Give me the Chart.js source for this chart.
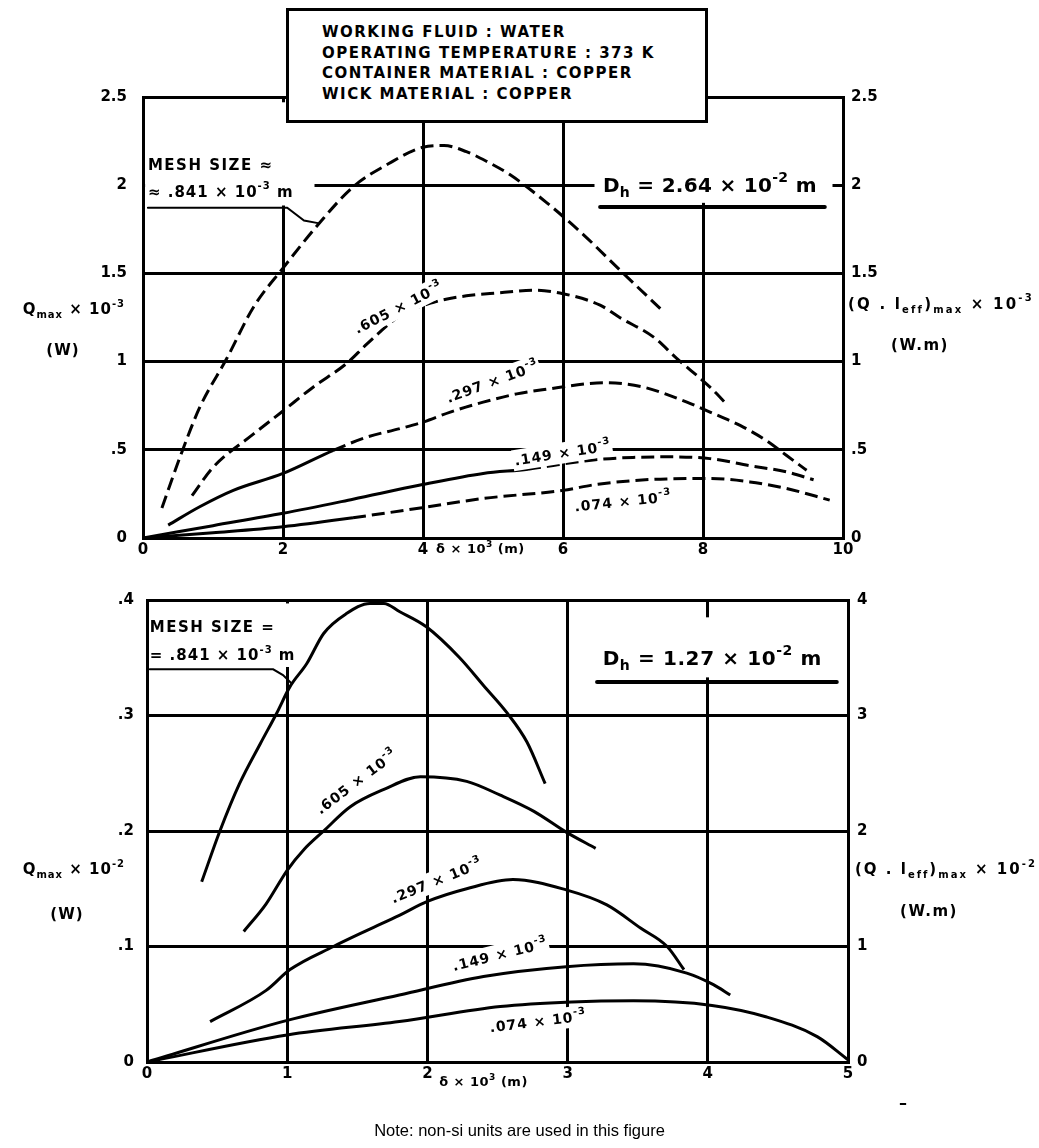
<!DOCTYPE html>
<html>
<head>
<meta charset="utf-8">
<script src="https://cdn.jsdelivr.net/npm/chart.js@4/dist/chart.umd.min.js"></script>
<style>
  body { margin: 0; background: #fff; width: 1039px; height: 1148px; position: relative; overflow: hidden; }
  canvas { position: absolute; left: 0; }
  #top { top: 0; }
  #bot { top: 575px; }
  #info {
    position: absolute; left: 286px; top: 8px; width: 383px; height: 98px;
    border: 3px solid #000; background: #fff; padding: 11px 0 0 33px;
    font: bold 15px "DejaVu Sans", sans-serif; letter-spacing: 1.5px; line-height: 20.6px;
  }
  #note { position: absolute; left: 0; top: 1121px; width: 1039px; text-align: center; font: 16.5px "Liberation Sans", Arial, sans-serif; }
  #dash { position: absolute; left: 899px; top: 1093px; font: bold 16px "DejaVu Sans"; }
</style>
</head>
<body>
<canvas id="top" width="1039" height="575"></canvas>
<canvas id="bot" width="1039" height="573"></canvas>
<div id="info">WORKING FLUID : WATER<br>OPERATING TEMPERATURE : 373 K<br>CONTAINER MATERIAL : COPPER<br>WICK MATERIAL : COPPER</div>
<div id="note">Note: non-si units are used in this figure</div>
<div id="dash">–</div>
<script>
// tick labels
const topTickLeft = ['0', '.5', '1', '1.5', '2', '2.5'];
const topTickRight = ['0', '.5', '1', '1.5', '2', '2.5'];
const botTickLeft = ['0', '.1', '.2', '.3', '.4'];
const botTickRight = ['0', '1', '2', '3', '4'];

// upper chart, Dh = 2.64e-2 m : delta x 10^3 (m) vs Qmax x 10^-3 (W)
const top841X = [0.27, 0.53, 0.81, 1.2, 1.58, 2.0, 2.53, 3.0, 3.5, 4.0, 4.3, 4.62, 4.91, 5.24, 5.77, 6.29, 6.81, 7.39];
const top841Y = [0.17, 0.46, 0.74, 1.02, 1.31, 1.53, 1.79, 1.99, 2.12, 2.215, 2.225, 2.19, 2.135, 2.06, 1.9, 1.72, 1.52, 1.30];
const top605X = [0.7, 1.0, 1.58, 2.0, 2.43, 2.91, 3.2, 3.67, 4.14, 4.62, 5.1, 5.58, 6.0, 6.53, 6.81, 7.29, 7.62, 8.1, 8.36];
const top605Y = [0.24, 0.40, 0.59, 0.72, 0.855, 0.99, 1.10, 1.26, 1.335, 1.373, 1.39, 1.405, 1.385, 1.32, 1.25, 1.14, 1.02, 0.855, 0.75];
const top297X = [0.36, 0.81, 1.29, 2.0, 2.72, 3.2, 3.67, 4.0, 4.39, 4.86, 5.34, 5.81, 6.34, 6.6, 7.15, 7.77, 8.1, 8.53, 8.9, 9.19, 9.48];
const top297Y = [0.073, 0.177, 0.27, 0.366, 0.497, 0.572, 0.62, 0.657, 0.714, 0.77, 0.817, 0.846, 0.874, 0.88, 0.855, 0.77, 0.714, 0.638, 0.554, 0.469, 0.384];
const top149X = [0, 1, 2, 3, 3.96, 4.86, 5.5, 6.0, 6.5, 7.0, 7.5, 8.1, 8.67, 9.19, 9.58];
const top149Y = [0, 0.07, 0.14, 0.22, 0.30, 0.366, 0.39, 0.42, 0.445, 0.457, 0.46, 0.45, 0.41, 0.375, 0.33];
const top074X = [0, 1, 2, 3, 3.96, 4.86, 6.0, 6.5, 7.48, 8.1, 8.67, 9.19, 9.81];
const top074Y = [0, 0.03, 0.064, 0.115, 0.17, 0.224, 0.27, 0.305, 0.335, 0.337, 0.318, 0.281, 0.215];

// lower chart, Dh = 1.27e-2 m : delta x 10^3 (m) vs Qmax x 10^-2 (W)
const bot841X = [0.39, 0.52, 0.66, 0.81, 0.925, 1.02, 1.14, 1.26, 1.42, 1.59, 1.69, 1.8, 1.99, 2.23, 2.4, 2.57, 2.71, 2.84];
const bot841Y = [0.156, 0.20, 0.241, 0.276, 0.302, 0.325, 0.345, 0.371, 0.388, 0.397, 0.397, 0.39, 0.377, 0.35, 0.326, 0.302, 0.277, 0.241];
const bot605X = [0.69, 0.85, 1.0, 1.12, 1.26, 1.45, 1.69, 1.95, 2.28, 2.52, 2.76, 2.99, 3.2];
const bot605Y = [0.113, 0.137, 0.166, 0.184, 0.20, 0.221, 0.236, 0.247, 0.243, 0.231, 0.217, 0.199, 0.185];
const bot297X = [0.45, 0.85, 1.02, 1.33, 1.57, 1.8, 2.0, 2.28, 2.61, 2.99, 3.28, 3.52, 3.71, 3.83];
const bot297Y = [0.035, 0.062, 0.08, 0.10, 0.114, 0.127, 0.139, 0.15, 0.158, 0.149, 0.136, 0.116, 0.10, 0.08];
const bot149X = [0, 1, 1.8, 2.4, 2.99, 3.47, 3.85, 4.04, 4.16];
const bot149Y = [0, 0.036, 0.058, 0.074, 0.0825, 0.085, 0.077, 0.067, 0.058];
const bot074X = [0, 1, 1.8, 2.52, 3.03, 3.47, 4.03, 4.42, 4.78, 5.0];
const bot074Y = [0, 0.0234, 0.035, 0.048, 0.052, 0.053, 0.049, 0.039, 0.022, 0.002];

const FONT = '"DejaVu Sans", sans-serif';

function curve(xs, ys, dashFrom) {
  const ds = {
    data: xs.map((x, i) => ({ x: x, y: ys[i] })),
    borderColor: '#000', borderWidth: 3, pointRadius: 0, fill: false,
    cubicInterpolationMode: 'monotone'
  };
  if (dashFrom !== undefined) {
    ds.segment = { borderDash: c => (c.p0.parsed.x >= dashFrom ? [13, 6] : undefined) };
  }
  return ds;
}

// text with _{sub} and ^{sup} parts
function parseRuns(s) {
  const out = [], re = /([_^])\{([^}]*)\}/g;
  let last = 0, m;
  while ((m = re.exec(s))) {
    if (m.index > last) out.push({ t: s.slice(last, m.index), k: '' });
    out.push({ t: m[2], k: m[1] });
    last = re.lastIndex;
  }
  if (last < s.length) out.push({ t: s.slice(last), k: '' });
  return out;
}

function drawRich(ctx, s, x, y, size, align, sp, backing) {
  ctx.letterSpacing = (sp || 0) + 'px';
  const runs = parseRuns(s).map(r => {
    const fs = r.k ? Math.round(size * 0.68) : size;
    ctx.font = 'bold ' + fs + 'px ' + FONT;
    return { t: r.t, k: r.k, fs: fs, w: ctx.measureText(r.t).width };
  });
  const total = runs.reduce((a, r) => a + r.w, 0);
  let cx = align === 'center' ? x - total / 2 : align === 'right' ? x - total : x;
  if (backing) {
    ctx.save();
    ctx.fillStyle = '#fff';
    ctx.fillRect(cx - 2, y - size * 0.85, total + 3, size * 1.5);
    ctx.restore();
  }
  ctx.textAlign = 'left';
  ctx.textBaseline = 'middle';
  runs.forEach(r => {
    ctx.font = 'bold ' + r.fs + 'px ' + FONT;
    const dy = r.k === '_' ? size * 0.32 : r.k === '^' ? -size * 0.42 : 0;
    ctx.fillText(r.t, cx, y + dy);
    cx += r.w;
  });
}

function notesPlugin(cfg) {
  return {
    id: 'notes',
    beforeDatasetsDraw(chart) {
      const { ctx } = chart, sx = chart.scales.x, sy = chart.scales.y;
      ctx.save();
      ctx.fillStyle = '#fff';
      cfg.blank.forEach(b => {
        const l = sx.getPixelForValue(b[0]), r = sx.getPixelForValue(b[1]);
        const t = sy.getPixelForValue(b[3]), btm = sy.getPixelForValue(b[2]);
        ctx.fillRect(l, t, r - l, btm - t);
      });
      ctx.restore();
    },
    afterDatasetsDraw(chart) {
      const { ctx, chartArea } = chart, sx = chart.scales.x, sy = chart.scales.y;
      ctx.save();
      ctx.fillStyle = '#000';
      ctx.strokeStyle = '#000';
      ctx.lineCap = 'round';
      cfg.lines.forEach(ln => {
        ctx.lineWidth = ln.w;
        ctx.beginPath();
        ln.pts.forEach((p, i) => {
          const px = sx.getPixelForValue(p[0]), py = sy.getPixelForValue(p[1]);
          if (i === 0) ctx.moveTo(px, py); else ctx.lineTo(px, py);
        });
        ctx.stroke();
      });
      cfg.texts.forEach(t => {
        drawRich(ctx, t.t, sx.getPixelForValue(t.x), sy.getPixelForValue(t.y), t.size, t.align, t.sp);
      });
      cfg.curveLabels.forEach(t => {
        ctx.save();
        ctx.translate(sx.getPixelForValue(t.x), sy.getPixelForValue(t.y));
        ctx.rotate(t.a * Math.PI / 180);
        drawRich(ctx, t.t, 0, 0, 14, 'center', 1, true);
        ctx.restore();
      });
      cfg.titles.forEach(t => {
        const px = t.side === 'L' ? chartArea.left - t.off : chartArea.right + t.off;
        drawRich(ctx, t.t, px, sy.getPixelForValue(t.v), 15, t.align, t.sp);
      });
      const xt = cfg.xTitle;
      drawRich(ctx, xt.t, sx.getPixelForValue(xt.x), chartArea.bottom + xt.off, 13, 'center', 0.5);
      ctx.restore();
    }
  };
}

function tickFont() { return { family: FONT, size: 15, weight: 'bold' }; }

function makeChart(id, cfg) {
  return new Chart(document.getElementById(id), {
    type: 'line',
    data: { datasets: cfg.datasets },
    options: {
      responsive: false,
      animation: false,
      layout: { padding: { top: cfg.padTop, left: 0, right: 0, bottom: 0 } },
      plugins: { legend: { display: false }, tooltip: { enabled: false } },
      scales: {
        x: {
          type: 'linear', min: 0, max: cfg.xMax,
          ticks: { stepSize: cfg.xStep, padding: 3, color: '#000', font: tickFont() },
          grid: { color: '#000', lineWidth: 3, drawTicks: false },
          border: { color: '#000', width: 3 },
          afterFit: s => { s.height = cfg.xH; }
        },
        y: {
          position: 'left', min: 0, max: cfg.yMax,
          ticks: { stepSize: cfg.yStep, padding: cfg.padL, color: '#000', font: tickFont(),
                   callback: (v, i) => cfg.leftTicks[i] },
          grid: { color: '#000', lineWidth: 3, drawTicks: false },
          border: { color: '#000', width: 3 },
          afterFit: s => { s.width = cfg.wL; }
        },
        y2: {
          position: 'right', min: 0, max: cfg.y2Max,
          ticks: { stepSize: cfg.y2Step, padding: cfg.padR, color: '#000', font: tickFont(),
                   callback: (v, i) => cfg.rightTicks[i] },
          grid: { display: false, drawTicks: false },
          border: { color: '#000', width: 3 },
          afterFit: s => { s.width = cfg.wR; }
        }
      }
    },
    plugins: [notesPlugin(cfg)]
  });
}

makeChart('top', {
  datasets: [
    curve(top841X, top841Y, 0),
    curve(top605X, top605Y, 0),
    curve(top297X, top297Y, 2.5),
    curve(top149X, top149Y, 5),
    curve(top074X, top074Y, 3)
  ],
  padTop: 97, xH: 37, wL: 143, wR: 196, padL: 16, padR: 8,
  xMax: 10, xStep: 2, yMax: 2.5, yStep: 0.5, y2Max: 2.5, y2Step: 0.5,
  leftTicks: topTickLeft, rightTicks: topTickRight,
  blank: [[0.03, 2.45, 1.885, 2.47], [6.45, 9.85, 1.9, 2.47]],
  lines: [
    { pts: [[0.07, 1.872], [2.06, 1.872], [2.3, 1.80], [2.5, 1.785]], w: 2 },
    { pts: [[6.53, 1.876], [9.74, 1.876]], w: 4 }
  ],
  texts: [
    { t: 'MESH SIZE ≈', x: 0.07, y: 2.107, size: 15, align: 'left', sp: 1.5 },
    { t: '≈ .841 × 10^{-3} m', x: 0.07, y: 1.955, size: 15, align: 'left', sp: 1 },
    { t: 'D_{h} = 2.64 × 10^{-2} m', x: 6.57, y: 1.99, size: 20, align: 'left', sp: 0.3 }
  ],
  curveLabels: [
    { t: '.605 × 10^{-3}', x: 3.66, y: 1.30, a: -27 },
    { t: '.297 × 10^{-3}', x: 5.0, y: 0.88, a: -20 },
    { t: '.149 × 10^{-3}', x: 6.0, y: 0.475, a: -9 },
    { t: '.074 × 10^{-3}', x: 6.86, y: 0.2, a: -6 }
  ],
  titles: [
    { t: 'Q_{max} × 10^{-3}', side: 'L', off: 18, v: 1.29, align: 'right', sp: 1 },
    { t: '(W)', side: 'L', off: 80, v: 1.06, align: 'center', sp: 1 },
    { t: '(Q . l_{eff})_{max} × 10^{-3}', side: 'R', off: 5, v: 1.32, align: 'left', sp: 2.2 },
    { t: '(W.m)', side: 'R', off: 77, v: 1.09, align: 'center', sp: 1.5 }
  ],
  xTitle: { t: 'δ × 10^{3} (m)', x: 4.82, off: 12 }
});

makeChart('bot', {
  datasets: [
    curve(bot841X, bot841Y),
    curve(bot605X, bot605Y),
    curve(bot297X, bot297Y),
    curve(bot149X, bot149Y),
    curve(bot074X, bot074Y)
  ],
  padTop: 25, xH: 86, wL: 147, wR: 191, padL: 13, padR: 9,
  xMax: 5, xStep: 1, yMax: 0.4, yStep: 0.1, y2Max: 4, y2Step: 1,
  leftTicks: botTickLeft, rightTicks: botTickRight,
  blank: [[0.02, 1.05, 0.342, 0.397], [3.15, 4.95, 0.333, 0.385]],
  lines: [
    { pts: [[0.02, 0.34], [0.9, 0.34], [0.97, 0.335], [1.03, 0.328]], w: 2 },
    { pts: [[3.21, 0.329], [4.92, 0.329]], w: 4 }
  ],
  texts: [
    { t: 'MESH SIZE =', x: 0.02, y: 0.376, size: 15, align: 'left', sp: 1.5 },
    { t: '= .841 × 10^{-3} m', x: 0.02, y: 0.351, size: 15, align: 'left', sp: 1 },
    { t: 'D_{h} = 1.27 × 10^{-2} m', x: 3.25, y: 0.348, size: 20, align: 'left', sp: 0.6 }
  ],
  curveLabels: [
    { t: '.605 × 10^{-3}', x: 1.5, y: 0.242, a: -37 },
    { t: '.297 × 10^{-3}', x: 2.07, y: 0.156, a: -22 },
    { t: '.149 × 10^{-3}', x: 2.52, y: 0.092, a: -14 },
    { t: '.074 × 10^{-3}', x: 2.79, y: 0.034, a: -7 }
  ],
  titles: [
    { t: 'Q_{max} × 10^{-2}', side: 'L', off: 22, v: 0.166, align: 'right', sp: 1 },
    { t: '(W)', side: 'L', off: 80, v: 0.127, align: 'center', sp: 1 },
    { t: '(Q . l_{eff})_{max} × 10^{-2}', side: 'R', off: 7, v: 0.166, align: 'left', sp: 2 },
    { t: '(W.m)', side: 'R', off: 81, v: 0.13, align: 'center', sp: 1.5 }
  ],
  xTitle: { t: 'δ × 10^{3} (m)', x: 2.4, off: 21 }
});
</script>
</body>
</html>
